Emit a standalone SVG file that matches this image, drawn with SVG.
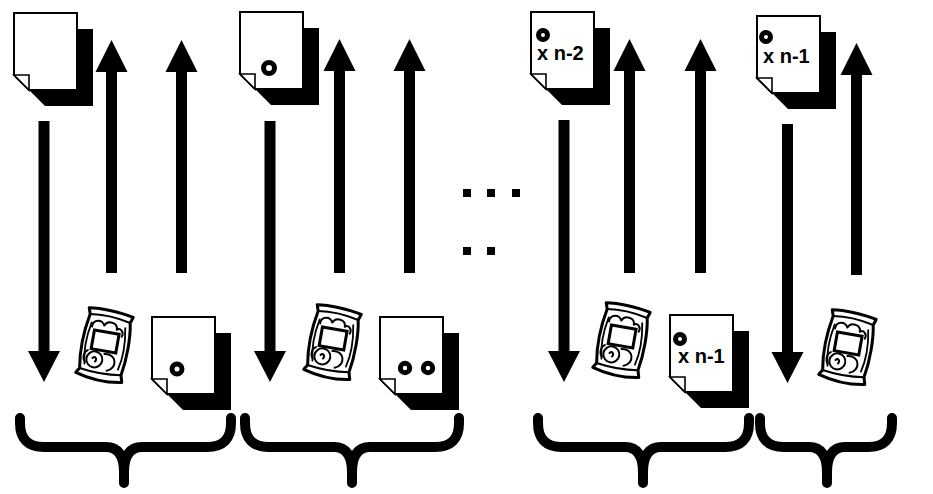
<svg xmlns="http://www.w3.org/2000/svg" xmlns:xlink="http://www.w3.org/1999/xlink" width="933" height="494" viewBox="0 0 933 494">
  <style>
    .page { fill: #fff; stroke: #000; stroke-width: 2; stroke-linejoin: miter; }
    .shadow { fill: #000; }
    .fold { fill: #fff; stroke: #000; stroke-width: 1.6; }
    .ring { fill: none; stroke: #000; stroke-width: 5; }
    .count { font-family: "Liberation Sans", Arial, sans-serif; font-weight: bold; font-size: 20px; fill: #000; }
    .arrow { fill: #000; stroke: none; }
    .brace { fill: none; stroke: #000; stroke-width: 10; stroke-linecap: round; stroke-linejoin: round; }
    .dot { fill: #000; }
    .bag-line { fill: none; stroke: #000; stroke-linecap: round; stroke-linejoin: round; }
  </style>
  <defs>
    <!-- sheet of paper with folded lower-left corner and drop shadow -->
    <g id="doc">
      <path class="shadow" d="M16,16 H79 V93 H31 L16,78 Z"/>
      <path class="page" d="M0,0 H63 V77 H15 L0,62 Z"/>
      <path class="fold" d="M0,62 H15 V77 Z"/>
    </g>
    <!-- sketched snack bag -->
    <g id="bag">
      <path d="M-22,-34 C-10,-36 10,-35 23,-32 L21,-26 C24,-12 24,10 21,27 L23,34 C8,37 -10,36 -24,32 L-21,27 C-24,10 -23,-12 -20,-28 Z" fill="#fff" stroke="#000" stroke-width="3" stroke-linejoin="round"/>
      <path class="bag-line" stroke-width="2" d="M-20,-28 C-8,-30 8,-29 21,-26"/>
      <path class="bag-line" stroke-width="2" d="M-21,27 C-8,29 8,29 21,27"/>
      <path class="bag-line" stroke-width="1.8" d="M-17,-20 C-20,-5 -20,10 -17,22 M17,-20 C20,-5 20,10 17,22"/>
      <path class="bag-line" stroke-width="2" d="M-16,-16 C-16,-24 -7,-25 -4,-19 C-2,-25 9,-25 9,-17 C12,-20 17,-16 15,-11"/>
      <rect x="-13" y="-13" width="25" height="19" fill="#fff" stroke="#000" stroke-width="3"/>
      <circle cx="-8" cy="16" r="8" fill="none" stroke="#000" stroke-width="2"/>
      <path class="bag-line" stroke-width="2" d="M1,9 C13,6 17,21 6,25 M-10,15 c2,-3 5,0 3,3 M-16,8 C-20,10 -20,17 -17,20"/>
    </g>
  </defs>

  <!-- connectors: document flow arrows -->
  <g id="connectors">
    <!-- upward arrows (apex at top) -->
    <path class="arrow" d="M111.5,40 L127.5,72 H117 V273 H106 V72 H95.5 Z"/>
    <path class="arrow" d="M181.5,40 L197.5,72 H187 V273 H176 V72 H165.5 Z"/>
    <path class="arrow" d="M339.5,39 L355.5,71 H345 V273 H334 V71 H323.5 Z"/>
    <path class="arrow" d="M409.5,39 L425.5,71 H415 V273 H404 V71 H393.5 Z"/>
    <path class="arrow" d="M629.5,39 L645.5,71 H635 V273 H624 V71 H613.5 Z"/>
    <path class="arrow" d="M700.5,39 L716.5,71 H706 V273 H695 V71 H684.5 Z"/>
    <path class="arrow" d="M856.5,43 L872.5,75 H862 V275 H851 V75 H840.5 Z"/>
    <!-- downward arrows (apex at bottom) -->
    <path class="arrow" d="M44,382 L28,351 H38.5 V121 H49.5 V351 H60 Z"/>
    <path class="arrow" d="M270,382 L254,351 H264.5 V121 H275.5 V351 H286 Z"/>
    <path class="arrow" d="M564,382 L548,351 H558.5 V120 H569.5 V351 H580 Z"/>
    <path class="arrow" d="M787.5,383 L771.5,352 H782 V124 H793 V352 H803.5 Z"/>
  </g>

  <!-- top row documents -->
  <g id="doc-a1"><use xlink:href="#doc" transform="translate(14,13)"/></g>
  <g id="doc-a2">
    <use xlink:href="#doc" transform="translate(240,12)"/>
    <circle class="ring" cx="269" cy="68" r="5.5"/>
  </g>
  <g id="doc-a3">
    <use xlink:href="#doc" transform="translate(531,12)"/>
    <circle class="ring" cx="543" cy="35" r="4.5" stroke-width="4.5"/>
    <text class="count" x="537" y="60">x n-2</text>
  </g>
  <g id="doc-a4">
    <use xlink:href="#doc" transform="translate(757,16)"/>
    <circle class="ring" cx="766" cy="37" r="4.5" stroke-width="4.5"/>
    <text class="count" x="763" y="63">x n-1</text>
  </g>

  <!-- bottom row bags -->
  <g id="bag-1"><use xlink:href="#bag" transform="translate(105,345) rotate(10)"/></g>
  <g id="bag-2"><use xlink:href="#bag" transform="translate(333,342) rotate(10)"/></g>
  <g id="bag-3"><use xlink:href="#bag" transform="translate(622,340) rotate(10)"/></g>
  <g id="bag-4"><use xlink:href="#bag" transform="translate(848,347) rotate(10)"/></g>

  <!-- bottom row documents -->
  <g id="doc-b1">
    <use xlink:href="#doc" transform="translate(152,317)"/>
    <circle class="ring" cx="177" cy="369" r="5"/>
  </g>
  <g id="doc-b2">
    <use xlink:href="#doc" transform="translate(380,317)"/>
    <circle class="ring" cx="405" cy="368" r="4.7"/>
    <circle class="ring" cx="428" cy="368" r="4.7"/>
  </g>
  <g id="doc-b3">
    <use xlink:href="#doc" transform="translate(670,315)"/>
    <circle class="ring" cx="680" cy="339" r="4.5" stroke-width="4.5"/>
    <text class="count" x="678" y="363">x n-1</text>
  </g>

  <!-- ellipsis -->
  <g id="ellipsis">
    <rect class="dot" x="463" y="189" width="8" height="8"/>
    <rect class="dot" x="487" y="189" width="8" height="8"/>
    <rect class="dot" x="512" y="189" width="8" height="8"/>
    <rect class="dot" x="463" y="247" width="8" height="8"/>
    <rect class="dot" x="487" y="247" width="8" height="8"/>
  </g>

  <!-- grouping braces -->
  <g id="braces">
    <path class="brace" d="M20,418 V423 Q20,447 44,447 H106 Q124,447 124,472 V483 M124,472 Q124,447 142,447 H207 Q231,447 231,423 V418"/>
    <path class="brace" d="M245,418 V423 Q245,447 269,447 H334 Q352,447 352,472 V483 M352,472 Q352,447 370,447 H435 Q459,447 459,423 V418"/>
    <path class="brace" d="M538,418 V423 Q538,447 562,447 H625 Q643,447 643,472 V483 M643,472 Q643,447 661,447 H725 Q749,447 749,423 V418"/>
    <path class="brace" d="M760,418 V423 Q760,447 784,447 H809 Q827,447 827,472 V483 M827,472 Q827,447 845,447 H868 Q892,447 892,423 V418"/>
  </g>
</svg>
